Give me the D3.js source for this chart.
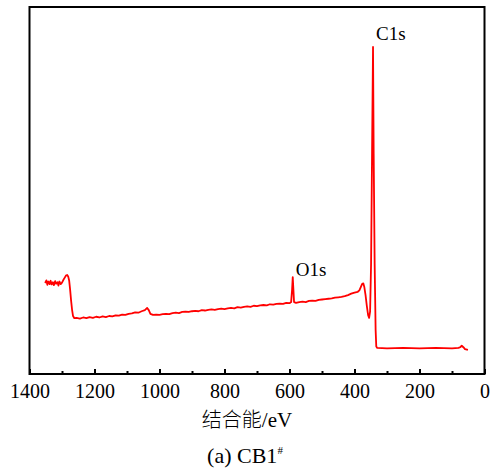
<!DOCTYPE html>
<html><head><meta charset="utf-8">
<script src="https://cdn.jsdelivr.net/npm/d3@7"></script>
<style>body{margin:0;background:#fff}svg{display:block}</style>
</head><body>
<svg id="c" width="490" height="475"></svg>
<script>
const bindingEnergy = [1352,1348,1345,1342,1338,1335,1332,1328,1325,1321,1318,1314,1311,1308,1304,1300,1296,1292,1288,1284,1281,1278,1275,1272,1269,1266,1262,1255,1245,1235,1225,1215,1205,1195,1185,1175,1165,1155,1145,1135,1125,1115,1105,1095,1085,1075,1065,1055,1045,1038,1033,1028,1020,1010,1000,990,980,970,960,950,940,930,920,910,900,890,880,870,860,850,840,830,820,810,800,790,780,770,760,750,740,730,720,710,700,690,680,670,660,650,640,630,620,610,600,595,592,590,588,586,580,570,560,550,540,530,520,510,500,490,480,470,460,450,440,430,420,410,400,390,385,380,376,373,370,366,362,358,355,352,349,346,343,341,338,335,333,330,300,250,200,150,100,80,75,70,65,60,51];
const intensity = [248,255,243,252,245,254,244,250,242,253,246,250,241,252,245,249,256,262,268,270,266,255,230,200,175,158,152,153,151,154,152,155,153,156,154,157,155,158,157,160,159,162,161,164,165,168,167,171,174,180,174,164,161,162,161,163,164,163,166,167,166,169,170,169,171,172,171,174,173,175,176,175,177,178,177,179,180,179,182,181,183,184,183,186,185,187,188,187,190,189,191,192,191,194,193,196,230,264,230,196,194,196,197,196,199,200,199,202,203,204,205,206,208,209,210,212,215,219,222,224,228,238,246,247,238,215,185,160,153,170,300,600,891,600,300,120,75,71,70,71,70,71,70,71,73,77,73,68,66,65];
const xTicks = [1400,1200,1000,800,600,400,200,0];
const peakLabels = [{name:"C1s", e:343, v:891}, {name:"O1s", e:590, v:264}];
const xTitle = "结合能/eV";
const caption = "(a) CB1";

const SERIF = '"Liberation Serif", "Times New Roman", serif';
const svg = d3.select("#c");
const L = 29.5, R = 484.5, T = 7, B = 374;
const x = d3.scaleLinear().domain([1400, 0]).range([L, R]);
const y = d3.scaleLinear().domain([0, 1000]).range([B, T]);
const data = bindingEnergy.map((e, i) => ({e, v: intensity[i]}));

svg.append("path").datum(data)
  .attr("fill", "none").attr("stroke", "#ff0000").attr("stroke-width", 1.8)
  .attr("stroke-linejoin", "round")
  .attr("d", d3.line().x(d => x(d.e)).y(d => y(d.v)));

const ax = svg.append("g").attr("transform", `translate(0,${B})`)
  .call(d3.axisBottom(x).tickValues(xTicks).tickSizeInner(-5).tickSizeOuter(0).tickPadding(10).tickFormat(d3.format("d")));
ax.attr("font-family", null).attr("font-size", null);
ax.select(".domain").remove();
ax.selectAll("line").attr("stroke", "#000").attr("stroke-width", 2);
ax.selectAll("text").style("font-family", SERIF).style("font-size", "20px").attr("fill", "#000");
const axm = svg.append("g").attr("transform", `translate(0,${B})`)
  .call(d3.axisBottom(x).tickValues(d3.range(1300, 0, -200)).tickSizeInner(-3).tickSizeOuter(0).tickFormat(""));
axm.select(".domain").remove();
axm.selectAll("line").attr("stroke", "#000").attr("stroke-width", 2);

svg.append("rect").attr("x", L).attr("y", T).attr("width", R - L).attr("height", B - T)
  .attr("fill", "none").attr("stroke", "#000").attr("stroke-width", 2);

peakLabels.forEach(p => {
  svg.append("text").style("font-family", SERIF).style("font-size", "19px")
    .attr("x", x(p.e) + 3).attr("y", y(p.v) - (p.name === "C1s" ? 7 : 1))
    .attr("fill", "#000").text(p.name);
});

const tt = svg.append("text").attr("x", 247).attr("y", 427).attr("text-anchor", "middle").attr("fill", "#000");
tt.append("tspan").style("font-family", '"Noto Sans CJK SC", sans-serif').style("font-size", "20px").style("font-weight", 300).text(xTitle.split("/")[0]);
tt.append("tspan").style("font-family", SERIF).style("font-size", "21px").text("/" + xTitle.split("/")[1]);

const cap = svg.append("text").style("font-family", SERIF).style("font-size", "22px")
  .attr("x", 245).attr("y", 463).attr("text-anchor", "middle").attr("fill", "#000");
cap.append("tspan").text(caption);
cap.append("tspan").style("font-size", "11px").attr("dy", -9).text("#");
</script>
</body></html>
